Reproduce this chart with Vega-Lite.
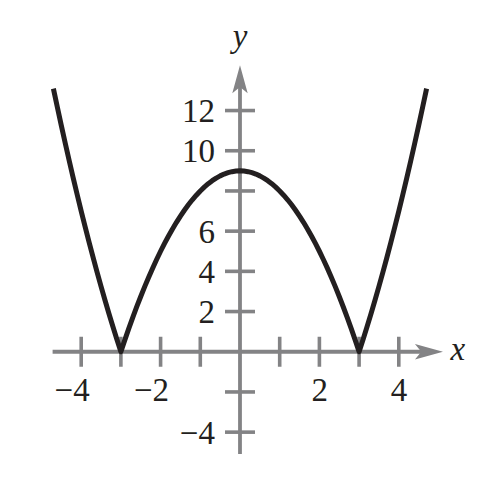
{
  "$schema": "https://vega.github.io/schema/vega-lite/v6.json",
  "width": 494,
  "height": 482,
  "autosize": {"type": "none"},
  "padding": 0,
  "background": "white",
  "config": {"view": {"stroke": null}},
  "datasets": {
    "curve": [
      {"x": -4.7, "y": 13.09}, {"x": -4.6, "y": 12.16}, {"x": -4.5, "y": 11.25}, {"x": -4.4, "y": 10.36},
      {"x": -4.3, "y": 9.49}, {"x": -4.2, "y": 8.64}, {"x": -4.1, "y": 7.81}, {"x": -4.0, "y": 7.0},
      {"x": -3.9, "y": 6.21}, {"x": -3.8, "y": 5.44}, {"x": -3.7, "y": 4.69}, {"x": -3.6, "y": 3.96},
      {"x": -3.5, "y": 3.25}, {"x": -3.4, "y": 2.56}, {"x": -3.3, "y": 1.89}, {"x": -3.2, "y": 1.24},
      {"x": -3.1, "y": 0.61}, {"x": -3.0, "y": 0.0}, {"x": -2.9, "y": 0.59}, {"x": -2.8, "y": 1.16},
      {"x": -2.7, "y": 1.71}, {"x": -2.6, "y": 2.24}, {"x": -2.5, "y": 2.75}, {"x": -2.4, "y": 3.24},
      {"x": -2.3, "y": 3.71}, {"x": -2.2, "y": 4.16}, {"x": -2.1, "y": 4.59}, {"x": -2.0, "y": 5.0},
      {"x": -1.9, "y": 5.39}, {"x": -1.8, "y": 5.76}, {"x": -1.7, "y": 6.11}, {"x": -1.6, "y": 6.44},
      {"x": -1.5, "y": 6.75}, {"x": -1.4, "y": 7.04}, {"x": -1.3, "y": 7.31}, {"x": -1.2, "y": 7.56},
      {"x": -1.1, "y": 7.79}, {"x": -1.0, "y": 8.0}, {"x": -0.9, "y": 8.19}, {"x": -0.8, "y": 8.36},
      {"x": -0.7, "y": 8.51}, {"x": -0.6, "y": 8.64}, {"x": -0.5, "y": 8.75}, {"x": -0.4, "y": 8.84},
      {"x": -0.3, "y": 8.91}, {"x": -0.2, "y": 8.96}, {"x": -0.1, "y": 8.99}, {"x": 0.0, "y": 9.0},
      {"x": 0.1, "y": 8.99}, {"x": 0.2, "y": 8.96}, {"x": 0.3, "y": 8.91}, {"x": 0.4, "y": 8.84},
      {"x": 0.5, "y": 8.75}, {"x": 0.6, "y": 8.64}, {"x": 0.7, "y": 8.51}, {"x": 0.8, "y": 8.36},
      {"x": 0.9, "y": 8.19}, {"x": 1.0, "y": 8.0}, {"x": 1.1, "y": 7.79}, {"x": 1.2, "y": 7.56},
      {"x": 1.3, "y": 7.31}, {"x": 1.4, "y": 7.04}, {"x": 1.5, "y": 6.75}, {"x": 1.6, "y": 6.44},
      {"x": 1.7, "y": 6.11}, {"x": 1.8, "y": 5.76}, {"x": 1.9, "y": 5.39}, {"x": 2.0, "y": 5.0},
      {"x": 2.1, "y": 4.59}, {"x": 2.2, "y": 4.16}, {"x": 2.3, "y": 3.71}, {"x": 2.4, "y": 3.24},
      {"x": 2.5, "y": 2.75}, {"x": 2.6, "y": 2.24}, {"x": 2.7, "y": 1.71}, {"x": 2.8, "y": 1.16},
      {"x": 2.9, "y": 0.59}, {"x": 3.0, "y": 0.0}, {"x": 3.1, "y": 0.61}, {"x": 3.2, "y": 1.24},
      {"x": 3.3, "y": 1.89}, {"x": 3.4, "y": 2.56}, {"x": 3.5, "y": 3.25}, {"x": 3.6, "y": 3.96},
      {"x": 3.7, "y": 4.69}, {"x": 3.8, "y": 5.44}, {"x": 3.9, "y": 6.21}, {"x": 4.0, "y": 7.0},
      {"x": 4.1, "y": 7.81}, {"x": 4.2, "y": 8.64}, {"x": 4.3, "y": 9.49}, {"x": 4.4, "y": 10.36},
      {"x": 4.5, "y": 11.25}, {"x": 4.6, "y": 12.16}, {"x": 4.7, "y": 13.09}
    ],
    "xticks": [{"v": -4}, {"v": -3}, {"v": -2}, {"v": -1}, {"v": 1}, {"v": 2}, {"v": 3}, {"v": 4}],
    "yticks": [{"v": -4}, {"v": -2}, {"v": 2}, {"v": 4}, {"v": 6}, {"v": 8}, {"v": 10}, {"v": 12}],
    "xlabels": [{"v": -4, "t": "−4"}, {"v": -2, "t": "−2"}, {"v": 2, "t": "2"}, {"v": 4, "t": "4"}],
    "ylabels": [{"v": -4, "t": "−4"}, {"v": 2, "t": "2"}, {"v": 4, "t": "4"}, {"v": 6, "t": "6"}, {"v": 10, "t": "10"}, {"v": 12, "t": "12"}],
    "axes": [{"x1": -4.72, "x2": 4.6, "y1": 0, "y2": 0}, {"x1": 0, "x2": 0, "y1": -5.09, "y2": 13.3}]
  },
  "layer": [
    {
      "data": {"name": "axes"},
      "mark": {"type": "rule", "color": "#838385", "strokeWidth": 3.8},
      "encoding": {
        "x": {"field": "x1", "type": "quantitative", "scale": {"domain": [-6.045, 6.398], "nice": false, "zero": false}, "axis": null},
        "x2": {"field": "x2"},
        "y": {"field": "y1", "type": "quantitative", "scale": {"domain": [-6.48, 17.5], "nice": false, "zero": false}, "axis": null},
        "y2": {"field": "y2"}
      }
    },
    {
      "data": {"name": "xticks"},
      "mark": {"type": "tick", "orient": "vertical", "size": 30, "thickness": 3.6, "color": "#838385", "opacity": 1},
      "encoding": {
        "x": {"field": "v", "type": "quantitative", "scale": {"domain": [-6.045, 6.398], "nice": false, "zero": false}, "axis": null},
        "y": {"datum": 0, "type": "quantitative", "scale": {"domain": [-6.48, 17.5], "nice": false, "zero": false}, "axis": null}
      }
    },
    {
      "data": {"name": "yticks"},
      "mark": {"type": "tick", "orient": "horizontal", "size": 30, "thickness": 3.6, "color": "#838385", "opacity": 1},
      "encoding": {
        "x": {"datum": 0, "type": "quantitative", "scale": {"domain": [-6.045, 6.398], "nice": false, "zero": false}, "axis": null},
        "y": {"field": "v", "type": "quantitative", "scale": {"domain": [-6.48, 17.5], "nice": false, "zero": false}, "axis": null}
      }
    },
    {
      "data": {"values": [{}]},
      "mark": {"type": "point", "filled": true, "opacity": 1, "color": "#838385", "size": 784, "shape": "M1,0 L-1,-0.55 L-0.55,0 L-1,0.55 Z"},
      "encoding": {
        "x": {"datum": 4.76, "type": "quantitative", "scale": {"domain": [-6.045, 6.398], "nice": false, "zero": false}, "axis": null},
        "y": {"datum": 0, "type": "quantitative", "scale": {"domain": [-6.48, 17.5], "nice": false, "zero": false}, "axis": null}
      }
    },
    {
      "data": {"values": [{}]},
      "mark": {"type": "point", "filled": true, "opacity": 1, "color": "#838385", "size": 784, "shape": "M0,-1 L-0.55,1 L0,0.55 L0.55,1 Z"},
      "encoding": {
        "x": {"datum": 0, "type": "quantitative", "scale": {"domain": [-6.045, 6.398], "nice": false, "zero": false}, "axis": null},
        "y": {"datum": 13.56, "type": "quantitative", "scale": {"domain": [-6.48, 17.5], "nice": false, "zero": false}, "axis": null}
      }
    },
    {
      "data": {"name": "curve"},
      "mark": {"type": "line", "color": "#231f20", "strokeWidth": 5, "strokeJoin": "round", "strokeCap": "butt"},
      "encoding": {
        "x": {"field": "x", "type": "quantitative", "scale": {"domain": [-6.045, 6.398], "nice": false, "zero": false}, "axis": null},
        "y": {"field": "y", "type": "quantitative", "scale": {"domain": [-6.48, 17.5], "nice": false, "zero": false}, "axis": null},
        "order": {"field": "x", "type": "quantitative"}
      }
    },
    {
      "data": {"name": "xlabels"},
      "mark": {"type": "text", "font": "Liberation Serif", "fontSize": 33, "color": "#231f20", "align": "right", "baseline": "alphabetic", "dx": 8.5, "dy": 49},
      "encoding": {
        "x": {"field": "v", "type": "quantitative", "scale": {"domain": [-6.045, 6.398], "nice": false, "zero": false}, "axis": null},
        "y": {"datum": 0, "type": "quantitative", "scale": {"domain": [-6.48, 17.5], "nice": false, "zero": false}, "axis": null},
        "text": {"field": "t"}
      }
    },
    {
      "data": {"name": "ylabels"},
      "mark": {"type": "text", "font": "Liberation Serif", "fontSize": 33, "color": "#231f20", "align": "right", "baseline": "alphabetic", "dx": -25, "dy": 11.7},
      "encoding": {
        "x": {"datum": 0, "type": "quantitative", "scale": {"domain": [-6.045, 6.398], "nice": false, "zero": false}, "axis": null},
        "y": {"field": "v", "type": "quantitative", "scale": {"domain": [-6.48, 17.5], "nice": false, "zero": false}, "axis": null},
        "text": {"field": "t"}
      }
    },
    {
      "data": {"values": [{"t": "x"}]},
      "mark": {"type": "text", "font": "Liberation Serif", "fontStyle": "italic", "fontSize": 33, "color": "#231f20", "align": "left", "baseline": "alphabetic", "dx": 0, "dy": 8.5},
      "encoding": {
        "x": {"datum": 5.3, "type": "quantitative", "scale": {"domain": [-6.045, 6.398], "nice": false, "zero": false}, "axis": null},
        "y": {"datum": 0, "type": "quantitative", "scale": {"domain": [-6.48, 17.5], "nice": false, "zero": false}, "axis": null},
        "text": {"field": "t"}
      }
    },
    {
      "data": {"values": [{"t": "y"}]},
      "mark": {"type": "text", "font": "Liberation Serif", "fontStyle": "italic", "fontSize": 33, "color": "#231f20", "align": "center", "baseline": "alphabetic", "dx": 0, "dy": -32.5},
      "encoding": {
        "x": {"datum": 0, "type": "quantitative", "scale": {"domain": [-6.045, 6.398], "nice": false, "zero": false}, "axis": null},
        "y": {"datum": 13.56, "type": "quantitative", "scale": {"domain": [-6.48, 17.5], "nice": false, "zero": false}, "axis": null},
        "text": {"field": "t"}
      }
    }
  ]
}
